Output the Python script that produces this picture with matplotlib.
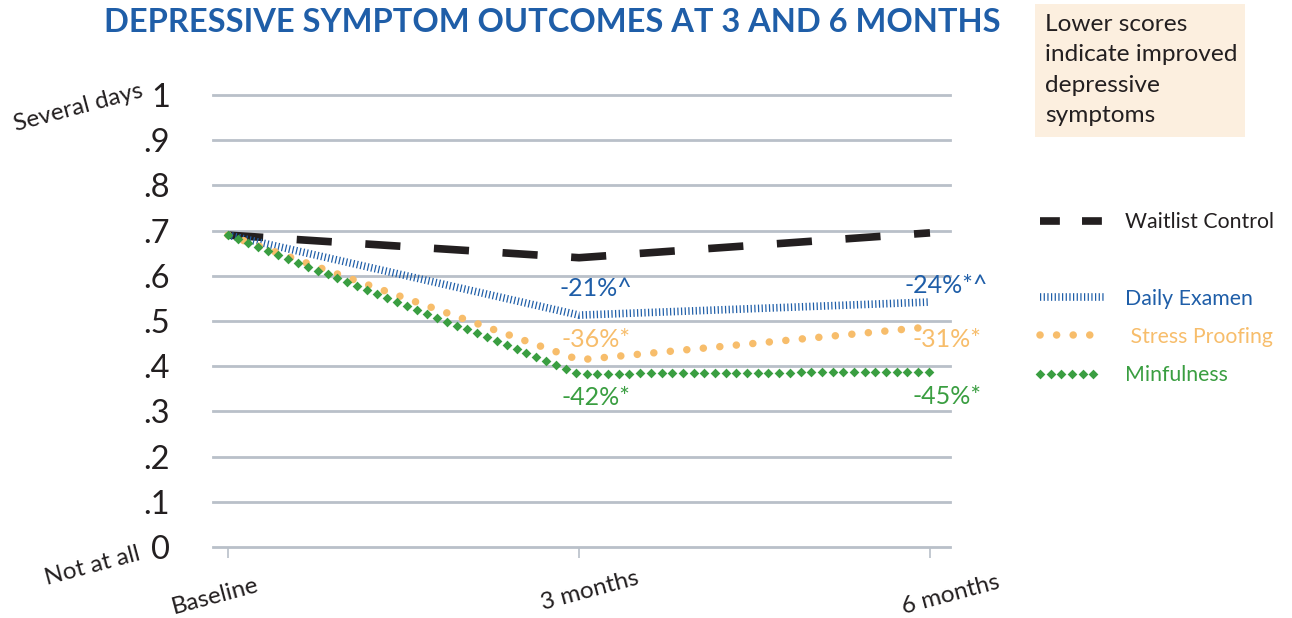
import numpy as np
import matplotlib
matplotlib.use("Agg")
import matplotlib.pyplot as plt
import matplotlib.colors as mcolors
from matplotlib.lines import Line2D
from matplotlib.patches import Rectangle
from matplotlib.patheffects import AbstractPathEffect
from matplotlib.path import Path
from matplotlib.transforms import Affine2D, IdentityTransform, ScaledTranslation

plt.rcParams['font.family'] = ['Lato', 'DejaVu Sans']

# ---- data ----
categories = ["Baseline", "3 months", "6 months"]
waitlist = [0.69, 0.64, 0.695]
daily_examen = [0.69, 0.513, 0.542]
stress_proofing = [0.69, 0.414, 0.487]
mindfulness = [0.69, 0.383, 0.388]
ytick_vals = [0, .1, .2, .3, .4, .5, .6, .7, .8, .9, 1]
ytick_labels = ["0", ".1", ".2", ".3", ".4", ".5", ".6", ".7", ".8", ".9", "1"]
series_names = ["Waitlist Control", "Daily Examen", " Stress Proofing", "Minfulness"]
labels_examen = ["-21%^", "-24%*^"]
labels_stress = ["-36%*", "-31%*"]
labels_mind = ["-42%*", "-45%*"]

BLUE = "#1f5ea8"
ORANGE = "#f7bd6b"
GREEN = "#3a9e41"
BLACK = "#231f20"
GRID = "#b9c0c9"


class MarkerTrail(AbstractPathEffect):
    """Draw diamond markers at a fixed screen spacing along a line."""
    def __init__(self, spacing, size, color):
        super().__init__()
        self.spacing = spacing
        self.size = size
        self.color = color

    def draw_path(self, renderer, gc, tpath, affine, rgbFace=None):
        pts = affine.transform(tpath.vertices)
        if len(pts) < 2:
            return
        seg = np.diff(pts, axis=0)
        seglen = np.hypot(seg[:, 0], seg[:, 1])
        cum = np.concatenate([[0], np.cumsum(seglen)])
        sp = renderer.points_to_pixels(self.spacing)
        d = np.arange(0, cum[-1] + 1e-6, sp)
        xs = np.interp(d, cum, pts[:, 0])
        ys = np.interp(d, cum, pts[:, 1])
        marker = Path.unit_regular_polygon(4)
        half = renderer.points_to_pixels(self.size) / 2
        gc0 = renderer.new_gc()
        gc0.copy_properties(gc)
        gc0.set_linewidth(0)
        gc0.set_foreground(self.color)
        gc0.set_dashes(0, None)
        renderer.draw_markers(gc0, marker, Affine2D().scale(half),
                              Path(np.column_stack([xs, ys])), IdentityTransform(),
                              mcolors.to_rgb(self.color))
        gc0.restore()


fig = plt.figure(figsize=(12.92, 6.18), dpi=100)
ax = fig.add_axes([213 / 1292, 1 - 547 / 618, (950 - 213) / 1292, (547 - 95) / 618])

x = np.arange(len(categories))
ax.set_xlim(-0.043, 2.057)
ax.set_ylim(0, 1)

for v in ytick_vals:
    ax.axhline(v, color=GRID, lw=2, zorder=1, clip_on=False)

l_wait, = ax.plot(x, waitlist, color=BLACK, lw=5.5, dashes=(4.6, 4.4),
                  solid_capstyle='butt', dash_capstyle='butt', zorder=3, label=series_names[0])
l_exam, = ax.plot(x, daily_examen, color=BLUE, lw=5.5, dashes=(0.16, 0.32),
                  dash_capstyle='butt', zorder=3, label=series_names[1])
l_stress, = ax.plot(x, stress_proofing, color=ORANGE, lw=5.4, dashes=(0.01, 2.2),
                    dash_capstyle='round', zorder=3, label=series_names[2])
l_mind, = ax.plot(x, mindfulness, color=GREEN, lw=1, zorder=4, label=series_names[3],
                  path_effects=[MarkerTrail(7.7, 7.0, GREEN)])

# data labels
lab_fs = 18
for i, txt in enumerate(labels_examen):
    ax.annotate(txt, (x[i + 1], daily_examen[i + 1]), xytext=(12, 19 if i == 0 else 12),
                textcoords='offset points', ha='center', va='center', color=BLUE, fontsize=lab_fs)
for i, txt in enumerate(labels_stress):
    ax.annotate(txt, (x[i + 1], stress_proofing[i + 1]), xytext=(12, 15 if i == 0 else -9),
                textcoords='offset points', ha='center', va='center', color=ORANGE, fontsize=lab_fs)
for i, txt in enumerate(labels_mind):
    ax.annotate(txt, (x[i + 1], mindfulness[i + 1]), xytext=(12, -17 if i == 0 else -18),
                textcoords='offset points', ha='center', va='center', color=GREEN, fontsize=lab_fs)

for s in ax.spines.values():
    s.set_visible(False)

ax.set_yticks(ytick_vals)
ax.set_yticklabels(ytick_labels, fontsize=23.5, color=BLACK)
ax.tick_params(axis='y', length=0, pad=31)
ax.set_xticks(x)
ax.set_xticklabels(categories, fontsize=17.5, color=BLACK, rotation=15, ha='center')
ax.tick_params(axis='x', length=8, width=1.2, color=GRID, pad=12)
# per-label nudges (points)
xlab_shift = [(-9, 0), (8, 5), (15, 2)]
for lab, (dx, dy) in zip(ax.get_xticklabels(), xlab_shift):
    lab.set_transform(lab.get_transform() + ScaledTranslation(dx / 72, dy / 72, fig.dpi_scale_trans))

# axis side labels
fig.text(78 / 1292, 1 - 108 / 618, "Several days", rotation=15, fontsize=17.5, color=BLACK,
         ha='center', va='center')
fig.text(93 / 1292, 1 - 566 / 618, "Not at all", rotation=15, fontsize=17.5, color=BLACK,
         ha='center', va='center')

# title
fig.text(552 / 1292, 1 - 22 / 618, "DEPRESSIVE SYMPTOM OUTCOMES AT 3 AND 6 MONTHS",
         fontsize=23.5, fontweight='bold', color=BLUE, ha='center', va='center')

# note box
fig.patches.append(Rectangle((1035 / 1292, 1 - 137 / 618), 210 / 1292, 133 / 618,
                             transform=fig.transFigure, facecolor="#fcefdf", edgecolor='none'))
fig.text(1045 / 1292, 1 - 14 / 618, "Lower scores\nindicate improved\ndepressive\nsymptoms",
         fontsize=17.6, color=BLACK, ha='left', va='top', linespacing=1.55)

# legend (waitlist legend key uses shorter dashes, as in the original)
wait_key = Line2D([], [], color=BLACK, lw=5.5, dashes=(2.6, 2.9), dash_capstyle='butt')
blank = Line2D([], [], linestyle='none')
handles = [wait_key, blank, l_exam, l_stress, l_mind]
labels = [series_names[0], " ", series_names[1], series_names[2], series_names[3]]
leg = fig.legend(handles, labels, loc='upper left', bbox_to_anchor=(1040 / 1292, 1 - 212 / 618),
                 frameon=False, fontsize=15.3, handlelength=3.0, handletextpad=1.0,
                 labelspacing=0.86, borderaxespad=0, borderpad=0,
                 labelcolor=[BLACK, BLACK, BLUE, ORANGE, GREEN])

fig.savefig("out.png", dpi=100)
